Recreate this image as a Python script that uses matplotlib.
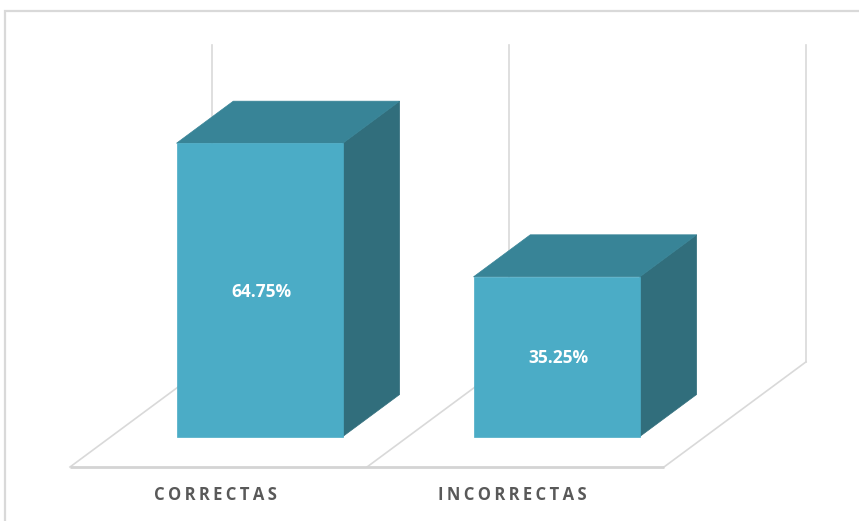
import matplotlib
matplotlib.use("Agg")
import matplotlib.pyplot as plt
from matplotlib.patches import Polygon, Rectangle

categories = ["CORRECTAS", "INCORRECTAS"]
values = [64.75, 35.25]
value_labels = ["64.75%", "35.25%"]
axis_max = 70

# oblique projection: a unit of depth shifts x (category units) and y (percent units)
DEPTH_DX = 0.478
DEPTH_DY = 23.2
BAR_WIDTH = 0.56
BAR_D0, BAR_D1 = 0.29, 0.69

FRONT = "#4BACC6"
TOP = "#388497"
SIDE = "#316E7C"
GRID = "#D9D9D9"


def proj(x, v, d):
    return (x + d * DEPTH_DX, v + d * DEPTH_DY)


fig = plt.figure(figsize=(8.59, 5.21), dpi=100)
ax = fig.add_axes([0, 0, 1, 1])
ax.set_xlim(-0.2357, 2.6566)
ax.set_ylim(-11.92, 103.09)
ax.axis("off")

# chart frame
fig.patches.append(Rectangle((5 / 859, -0.1), 1.2, 1 - 11 / 521 + 0.1,
                             transform=fig.transFigure, fill=False,
                             edgecolor="#D9D9D9", linewidth=1.6))

n = len(categories)
# back wall gridlines
for i in range(n + 1):
    x0, y0 = proj(i, 0, 1)
    x1, y1 = proj(i, axis_max, 1)
    ax.plot([x0, x1], [y0, y1], color=GRID, lw=1.2, zorder=1)

# floor
for i in range(n + 1):
    a = proj(i, 0, 0)
    b = proj(i, 0, 1)
    ax.plot([a[0], b[0]], [a[1], b[1]], color=GRID, lw=1.2, zorder=1)
a = proj(0, 0, 0)
b = proj(n, 0, 0)
ax.plot([a[0], b[0]], [a[1], b[1]], color="#D4D4D4", lw=2.0, zorder=1,
        solid_capstyle="butt")

# bars
for i, (v, lab) in enumerate(zip(values, value_labels)):
    xl = i + 0.5 - BAR_WIDTH / 2
    xr = i + 0.5 + BAR_WIDTH / 2
    front = [proj(xl, 0, BAR_D0), proj(xr, 0, BAR_D0),
             proj(xr, v, BAR_D0), proj(xl, v, BAR_D0)]
    top = [proj(xl, v, BAR_D0), proj(xr, v, BAR_D0),
           proj(xr, v, BAR_D1), proj(xl, v, BAR_D1)]
    side = [proj(xr, 0, BAR_D0), proj(xr, 0, BAR_D1),
            proj(xr, v, BAR_D1), proj(xr, v, BAR_D0)]
    for pts, col in ((side, SIDE), (top, TOP), (front, FRONT)):
        ax.add_patch(Polygon(pts, closed=True, facecolor=col,
                             edgecolor=col, lw=0.5, zorder=3))
    cx, cy = proj(i + 0.5, v / 2, BAR_D0)
    ax.text(cx + 0.005, cy - 0.4, lab, color="white", fontsize=12.5,
            fontweight="bold", family=["Open Sans", "DejaVu Sans"],
            ha="center", va="center", zorder=4)

# category labels with letter spacing
for i, cat in enumerate(categories):
    x, y = proj(i + 0.5, 0, 0)
    ax.text(x - 0.01, y - 6.2, "\u2009".join(cat), color="#595959",
            fontsize=12, fontweight="bold",
            family=["Open Sans", "DejaVu Sans"], ha="center", va="center")

fig.savefig("out.png", dpi=100)
